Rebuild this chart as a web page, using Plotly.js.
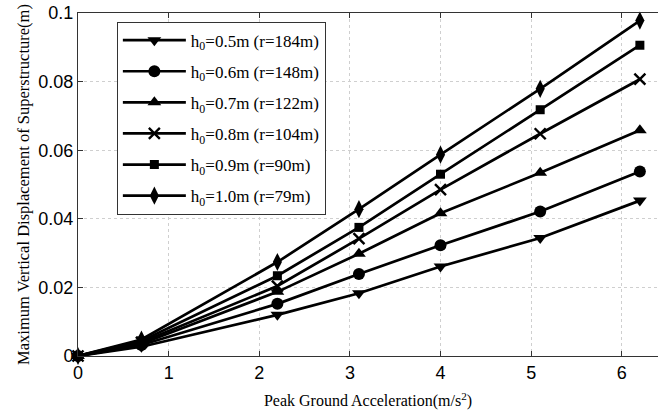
<!DOCTYPE html>
<html>
<head>
<meta charset="utf-8">
<script src="https://cdn.plot.ly/plotly-3.0.1.min.js"></script>
<style>
  html, body { margin: 0; padding: 0; background: #fff; }
  #chart { width: 658px; height: 411px; }
</style>
</head>
<body>
<div id="chart"></div>
<script>
// Peak ground acceleration (m/s^2)
const pga = [0, 0.7, 2.2, 3.1, 4.0, 5.1, 6.2];

// Maximum vertical displacement of the superstructure (m) for each h0
const disp_h05 = [0, 0.0027, 0.0120, 0.0183, 0.0261, 0.0344, 0.0453];
const disp_h06 = [0, 0.0032, 0.0152, 0.0239, 0.0323, 0.0421, 0.0538];
const disp_h07 = [0, 0.0036, 0.0187, 0.0298, 0.0416, 0.0534, 0.0658];
const disp_h08 = [0, 0.0040, 0.0204, 0.0342, 0.0485, 0.0648, 0.0807];
const disp_h09 = [0, 0.0044, 0.0234, 0.0375, 0.0530, 0.0718, 0.0906];
const disp_h10 = [0, 0.0048, 0.0274, 0.0428, 0.0587, 0.0779, 0.0978];

const seriesNames = [
  'h<sub>0</sub>=0.5m (r=184m)',
  'h<sub>0</sub>=0.6m (r=148m)',
  'h<sub>0</sub>=0.7m (r=122m)',
  'h<sub>0</sub>=0.8m (r=104m)',
  'h<sub>0</sub>=0.9m (r=90m)',
  'h<sub>0</sub>=1.0m (r=79m)'
];
const seriesValues = [disp_h05, disp_h06, disp_h07, disp_h08, disp_h09, disp_h10];
const markerSymbols = ['triangle-down', 'circle', 'triangle-up', 'x-thin', 'square', 'diamond-tall'];
const markerSizes = [12, 12, 12, 11, 9, 13];

const serif = '"Liberation Serif", "Times New Roman", serif';
const sans = '"Liberation Sans", Arial, sans-serif';

const traces = seriesValues.map((vals, i) => ({
  type: 'scatter',
  mode: 'lines+markers',
  x: pga,
  y: vals,
  name: seriesNames[i],
  legendgroup: 'g' + i,
  line: { color: '#000', width: 2.7 },
  marker: {
    symbol: markerSymbols[i],
    size: markerSizes[i],
    color: '#000',
    line: { color: '#000', width: markerSymbols[i] === 'x-thin' ? 2.4 : 0 }
  },
  cliponaxis: false
}));

const layout = {
  width: 658,
  height: 411,
  margin: { l: 78, r: 0, t: 13, b: 55 },
  paper_bgcolor: '#fff',
  plot_bgcolor: '#fff',
  showlegend: true,
  legend: {
    x: 0.067, y: 0.975, xanchor: 'left', yanchor: 'top',
    bgcolor: '#fff', bordercolor: '#333', borderwidth: 1,
    font: { family: serif, size: 17, color: '#000' },
    tracegroupgap: 6,
    itemwidth: 63
  },
  xaxis: {
    range: [0, 6.4],
    tickvals: [0, 1, 2, 3, 4, 5, 6],
    ticks: 'inside', ticklen: 5, tickcolor: '#333',
    showline: true, linecolor: '#333', linewidth: 1, mirror: 'ticks',
    showgrid: true, gridcolor: '#cfcfcf', griddash: 'dot', gridwidth: 1,
    zeroline: false,
    tickfont: { family: sans, size: 18, color: '#000' },
    title: {
      text: 'Peak Ground Acceleration(m/s<sup>2</sup>)',
      font: { family: serif, size: 16, color: '#000' },
      standoff: 13
    },
    automargin: false
  },
  yaxis: {
    range: [0, 0.1],
    tickvals: [0, 0.02, 0.04, 0.06, 0.08, 0.1],
    ticktext: ['0', '0.02', '0.04', '0.06', '0.08', '0.1'],
    ticks: 'inside', ticklen: 5, tickcolor: '#333',
    showline: true, linecolor: '#333', linewidth: 1, mirror: false,
    showgrid: true, gridcolor: '#cfcfcf', griddash: 'dot', gridwidth: 1,
    zeroline: false,
    tickfont: { family: sans, size: 18, color: '#000' },
    title: {
      text: 'Maximum Vertical Displacement of Superstructure(m)',
      font: { family: serif, size: 16.5, color: '#000' },
      standoff: 4
    },
    automargin: false
  }
};

Plotly.newPlot('chart', traces, layout, { displayModeBar: false, staticPlot: true });
</script>
</body>
</html>
